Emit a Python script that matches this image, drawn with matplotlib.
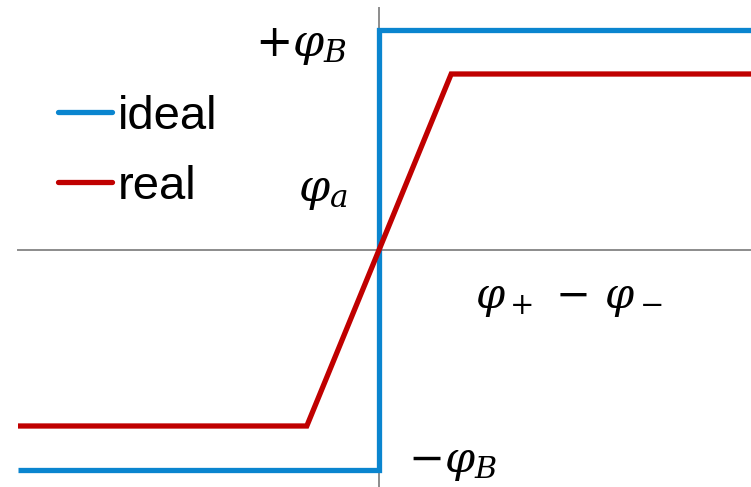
import matplotlib
matplotlib.use('Agg')
from matplotlib import pyplot as plt

# comparator transfer curve: output vs. input difference
ideal_x = [-1.0, 0.0, 0.0, 1.05]
ideal_y = [-1.0, -1.0, 1.0, 1.0]
real_x = [-1.0, -0.2, 0.2, 1.05]
real_y = [-0.8, -0.8, 0.8, 0.8]
series_labels = ['ideal', 'real']

BLUE = '#0a85cf'
RED = '#c00000'
GRAY = '#8c8c8c'

plt.rcParams['mathtext.fontset'] = 'dejavuserif'

figure = plt.figure(figsize=(7.51, 4.87), dpi=100)
ax = figure.add_axes([0, 0, 1, 1])
ax.set_xlim(-379 / 361, 372 / 361)
ax.set_ylim(-237 / 220, 250 / 220)
ax.axis('off')

# coordinate axes
ax.plot([0, 0], [-1.2, 1.1], color=GRAY, lw=1.4, zorder=1)
ax.plot([-1.0, 1.1], [0, 0], color=GRAY, lw=1.4, zorder=1)

ax.plot(ideal_x, ideal_y, color=BLUE, lw=3.8, label=series_labels[0],
        solid_joinstyle='miter', solid_capstyle='butt', zorder=2)
ax.plot(real_x, real_y, color=RED, lw=3.8, label=series_labels[1],
        solid_joinstyle='miter', solid_capstyle='butt', zorder=3)

ax.text(-0.09, 0.93, r'$+\varphi_B$', fontsize=32, ha='right', va='center')
ax.text(-0.155, 0.27, r'$\varphi_a$', fontsize=32, ha='center', va='center')
ax.text(0.525, -0.22, r'$\varphi_+\,-\,\varphi_-$', fontsize=30, ha='center', va='center')
ax.text(0.08, -0.965, r'$-\varphi_B$', fontsize=31, ha='left', va='center')

leg = ax.legend(loc='upper left', bbox_to_anchor=(0.077, 0.805), frameon=False,
                handlelength=1.15, handletextpad=0.12,
                labelspacing=0.55, borderaxespad=0, borderpad=0,
                prop={'family': 'Liberation Sans', 'size': 34})
for line in leg.get_lines():
    line.set_solid_capstyle('round')

plt.savefig('out.png', dpi=100)
